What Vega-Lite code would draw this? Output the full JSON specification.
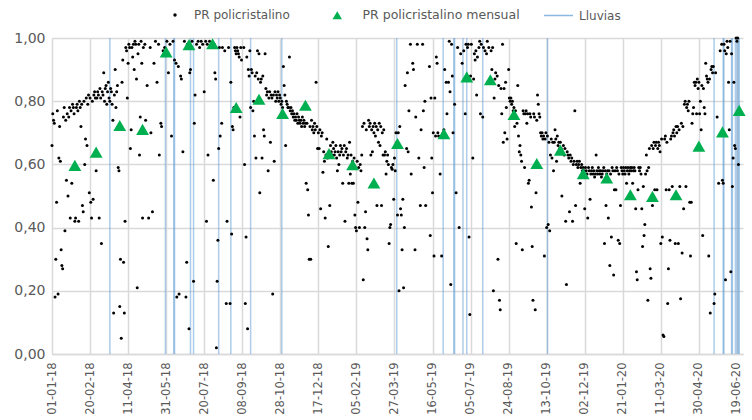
{
  "$schema": "https://vega.github.io/schema/vega-lite/v6.json",
  "width": 691,
  "height": 316,
  "autosize": "none",
  "padding": {"left": 52, "top": 38, "right": 9, "bottom": 66},
  "background": "white",
  "config": {
    "view": {"stroke": null},
    "font": "DejaVu Sans",
    "axis": {"labelOverlap": false},
    "axisX": {"labelOverlap": false, "labelSeparation": 0},
    "legend": {"labelFont": "DejaVu Sans", "labelFontSize": 12, "labelColor": "#595959", "title": null}
  },
  "encoding": {
    "x": {
      "field": "d", "type": "temporal",
      "scale": {"type": "utc", "domain": [{"year": 2018, "month": 1, "date": 1, "utc": true}, {"year": 2020, "month": 6, "date": 27, "utc": true}]},
      "axis": {
        "title": null,
        "values": [
          {"year": 2018, "month": 1, "date": 1, "utc": true}, {"year": 2018, "month": 2, "date": 20, "utc": true},
          {"year": 2018, "month": 4, "date": 11, "utc": true}, {"year": 2018, "month": 5, "date": 31, "utc": true},
          {"year": 2018, "month": 7, "date": 20, "utc": true}, {"year": 2018, "month": 9, "date": 8, "utc": true},
          {"year": 2018, "month": 10, "date": 28, "utc": true}, {"year": 2018, "month": 12, "date": 17, "utc": true},
          {"year": 2019, "month": 2, "date": 5, "utc": true}, {"year": 2019, "month": 3, "date": 27, "utc": true},
          {"year": 2019, "month": 5, "date": 16, "utc": true}, {"year": 2019, "month": 7, "date": 5, "utc": true},
          {"year": 2019, "month": 8, "date": 24, "utc": true}, {"year": 2019, "month": 10, "date": 13, "utc": true},
          {"year": 2019, "month": 12, "date": 2, "utc": true}, {"year": 2020, "month": 1, "date": 21, "utc": true},
          {"year": 2020, "month": 3, "date": 11, "utc": true}, {"year": 2020, "month": 4, "date": 30, "utc": true},
          {"year": 2020, "month": 6, "date": 19, "utc": true}
        ],
        "format": "%d-%m-%y",
        "labelAngle": -90,
        "labelFont": "DejaVu Sans",
        "labelFontSize": 11.5,
        "labelColor": "#595959",
        "labelPadding": 8,
        "labelOverlap": false,
        "labelSeparation": 0,
        "ticks": false,
        "domainColor": "#d9d9d9",
        "domainWidth": 1.5,
        "gridColor": "#d9d9d9",
        "gridWidth": 1.5
      }
    }
  },
  "layer": [
    {
      "data": {"values": [
        {"d":"2018-03-18"},{"d":"2018-05-30"},{"d":"2018-06-10"},{"d":"2018-06-11"},{"d":"2018-07-02"},{"d":"2018-07-06"},
        {"d":"2018-08-08"},{"d":"2018-08-24"},{"d":"2018-09-19"},{"d":"2018-10-30"},{"d":"2019-03-30"},{"d":"2019-05-30"},
        {"d":"2019-06-13"},{"d":"2019-06-14"},{"d":"2019-06-25"},{"d":"2019-06-30"},{"d":"2019-07-21"},{"d":"2019-10-14"},
        {"d":"2020-05-20"},{"d":"2020-06-01"},{"d":"2020-06-02"},{"d":"2020-06-12"},{"d":"2020-06-13"},{"d":"2020-06-17"},
        {"d":"2020-06-19"},{"d":"2020-06-21"},{"d":"2020-06-22"}
      ]},
      "mark": {"type": "rule", "strokeWidth": 1.5, "opacity": 0.5},
      "encoding": {
        "stroke": {
          "datum": "Lluvias",
          "scale": {"range": ["#5b9bd5"]},
          "legend": {
            "orient": "none",
            "legendX": 491,
            "legendY": -38,
            "symbolType": "stroke",
            "symbolSize": 841,
            "symbolStrokeWidth": 1.5,
            "symbolOpacity": 0.7,
            "labelOffset": 5
          }
        }
      }
    },
    {
      "data": {"values": [
        {"d":"2018-01-01","v":0.66},{"d":"2018-01-02","v":0.76},{"d":"2018-01-03","v":0.74},{"d":"2018-01-04","v":0.73},{"d":"2018-01-05","v":0.18},{"d":"2018-01-06","v":0.30},{"d":"2018-01-07","v":0.48},{"d":"2018-01-08","v":0.77},{"d":"2018-01-09","v":0.19},{"d":"2018-01-10","v":0.62},{"d":"2018-01-11","v":0.72},{"d":"2018-01-12","v":0.61},{"d":"2018-01-13","v":0.33},{"d":"2018-01-14","v":0.28},{"d":"2018-01-15","v":0.27},{"d":"2018-01-16","v":0.75},{"d":"2018-01-17","v":0.78},{"d":"2018-01-18","v":0.39},{"d":"2018-01-19","v":0.74},{"d":"2018-01-20","v":0.55},{"d":"2018-01-21","v":0.76},{"d":"2018-01-22","v":0.50},{"d":"2018-01-23","v":0.75},{"d":"2018-01-24","v":0.78},{"d":"2018-01-25","v":0.43},{"d":"2018-01-26","v":0.77},{"d":"2018-01-27","v":0.54},{"d":"2018-01-28","v":0.79},{"d":"2018-01-29","v":0.78},{"d":"2018-01-30","v":0.76},{"d":"2018-01-31","v":0.42},
        {"d":"2018-02-01","v":0.43},{"d":"2018-02-02","v":0.78},{"d":"2018-02-03","v":0.79},{"d":"2018-02-04","v":0.77},{"d":"2018-02-05","v":0.42},{"d":"2018-02-06","v":0.80},{"d":"2018-02-07","v":0.78},{"d":"2018-02-08","v":0.72},{"d":"2018-02-09","v":0.79},{"d":"2018-02-10","v":0.47},{"d":"2018-02-11","v":0.45},{"d":"2018-02-12","v":0.80},{"d":"2018-02-13","v":0.60},{"d":"2018-02-14","v":0.68},{"d":"2018-02-15","v":0.81},{"d":"2018-02-16","v":0.66},{"d":"2018-02-17","v":0.79},{"d":"2018-02-18","v":0.82},{"d":"2018-02-19","v":0.51},{"d":"2018-02-20","v":0.81},{"d":"2018-02-21","v":0.48},{"d":"2018-02-22","v":0.43},{"d":"2018-02-23","v":0.80},{"d":"2018-02-24","v":0.49},{"d":"2018-02-25","v":0.82},{"d":"2018-02-26","v":0.83},{"d":"2018-02-27","v":0.81},{"d":"2018-02-28","v":0.58},
        {"d":"2018-03-01","v":0.81},{"d":"2018-03-02","v":0.83},{"d":"2018-03-03","v":0.82},{"d":"2018-03-04","v":0.43},{"d":"2018-03-05","v":0.84},{"d":"2018-03-06","v":0.81},{"d":"2018-03-07","v":0.35},{"d":"2018-03-08","v":0.83},{"d":"2018-03-09","v":0.82},{"d":"2018-03-10","v":0.89},{"d":"2018-03-11","v":0.80},{"d":"2018-03-12","v":0.84},{"d":"2018-03-13","v":0.85},{"d":"2018-03-14","v":0.79},{"d":"2018-03-15","v":0.83},{"d":"2018-03-16","v":0.86},{"d":"2018-03-17","v":0.81},{"d":"2018-03-18","v":0.80},{"d":"2018-03-19","v":0.84},{"d":"2018-03-20","v":0.83},{"d":"2018-03-21","v":0.79},{"d":"2018-03-22","v":0.74},{"d":"2018-03-23","v":0.13},{"d":"2018-03-24","v":0.82},{"d":"2018-03-25","v":0.90},{"d":"2018-03-26","v":0.78},{"d":"2018-03-27","v":0.83},{"d":"2018-03-28","v":0.85},{"d":"2018-03-29","v":0.59},{"d":"2018-03-30","v":0.58},{"d":"2018-03-31","v":0.15},
        {"d":"2018-04-01","v":0.30},{"d":"2018-04-02","v":0.05},{"d":"2018-04-03","v":0.86},{"d":"2018-04-04","v":0.93},{"d":"2018-04-05","v":0.29},{"d":"2018-04-06","v":0.13},{"d":"2018-04-07","v":0.42},{"d":"2018-04-08","v":0.97},{"d":"2018-04-09","v":0.96},{"d":"2018-04-10","v":0.81},{"d":"2018-04-11","v":0.92},{"d":"2018-04-12","v":0.98},{"d":"2018-04-13","v":0.97},{"d":"2018-04-14","v":0.65},{"d":"2018-04-15","v":0.71},{"d":"2018-04-16","v":0.97},{"d":"2018-04-17","v":0.94},{"d":"2018-04-18","v":0.98},{"d":"2018-04-19","v":0.90},{"d":"2018-04-20","v":0.99},{"d":"2018-04-21","v":0.98},{"d":"2018-04-22","v":0.87},{"d":"2018-04-23","v":0.21},{"d":"2018-04-24","v":0.95},{"d":"2018-04-25","v":0.98},{"d":"2018-04-26","v":0.63},{"d":"2018-04-27","v":0.75},{"d":"2018-04-28","v":0.99},{"d":"2018-04-29","v":0.92},{"d":"2018-04-30","v":0.43},
        {"d":"2018-05-01","v":0.97},{"d":"2018-05-03","v":0.98},{"d":"2018-05-04","v":0.74},{"d":"2018-05-06","v":0.85},{"d":"2018-05-08","v":0.43},{"d":"2018-05-10","v":0.97},{"d":"2018-05-11","v":0.70},{"d":"2018-05-13","v":0.45},{"d":"2018-05-15","v":0.92},{"d":"2018-05-17","v":0.99},{"d":"2018-05-19","v":0.86},{"d":"2018-05-21","v":0.98},{"d":"2018-05-22","v":0.63},{"d":"2018-05-24","v":0.73},{"d":"2018-05-25","v":0.72},{"d":"2018-05-27","v":0.96},{"d":"2018-05-29","v":0.97},
        {"d":"2018-06-01","v":0.99},{"d":"2018-06-03","v":0.89},{"d":"2018-06-05","v":0.98},{"d":"2018-06-07","v":0.69},{"d":"2018-06-09","v":0.99},{"d":"2018-06-11","v":0.93},{"d":"2018-06-13","v":0.92},{"d":"2018-06-14","v":0.18},{"d":"2018-06-16","v":0.91},{"d":"2018-06-17","v":0.19},{"d":"2018-06-19","v":0.88},{"d":"2018-06-20","v":0.87},{"d":"2018-06-22","v":0.64},{"d":"2018-06-24","v":0.99},{"d":"2018-06-26","v":0.18},{"d":"2018-06-27","v":0.29},{"d":"2018-06-28","v":0.98},{"d":"2018-06-30","v":0.08},
        {"d":"2018-07-01","v":0.89},{"d":"2018-07-02","v":0.90},{"d":"2018-07-04","v":0.99},{"d":"2018-07-06","v":0.23},{"d":"2018-07-07","v":0.73},{"d":"2018-07-08","v":0.82},{"d":"2018-07-10","v":0.98},{"d":"2018-07-12","v":0.99},{"d":"2018-07-14","v":0.97},{"d":"2018-07-16","v":0.99},{"d":"2018-07-18","v":0.98},{"d":"2018-07-20","v":0.83},{"d":"2018-07-22","v":0.99},{"d":"2018-07-23","v":0.42},{"d":"2018-07-24","v":0.98},{"d":"2018-07-25","v":0.63},{"d":"2018-07-27","v":0.99},{"d":"2018-07-29","v":0.97},{"d":"2018-07-31","v":0.98},
        {"d":"2018-08-01","v":0.55},{"d":"2018-08-02","v":0.98},{"d":"2018-08-03","v":0.89},{"d":"2018-08-04","v":0.87},{"d":"2018-08-05","v":0.02},{"d":"2018-08-06","v":0.23},{"d":"2018-08-07","v":0.36},{"d":"2018-08-08","v":0.65},{"d":"2018-08-09","v":0.97},{"d":"2018-08-10","v":0.69},{"d":"2018-08-12","v":0.73},{"d":"2018-08-13","v":0.97},{"d":"2018-08-16","v":0.96},{"d":"2018-08-18","v":0.16},{"d":"2018-08-19","v":0.42},{"d":"2018-08-21","v":0.97},{"d":"2018-08-23","v":0.16},{"d":"2018-08-24","v":0.86},{"d":"2018-08-25","v":0.38},{"d":"2018-08-26","v":0.72},{"d":"2018-08-27","v":0.71},{"d":"2018-08-28","v":0.78},{"d":"2018-08-29","v":0.97},{"d":"2018-08-30","v":0.96},{"d":"2018-08-31","v":0.95},
        {"d":"2018-09-01","v":0.97},{"d":"2018-09-02","v":0.96},{"d":"2018-09-03","v":0.95},{"d":"2018-09-04","v":0.94},{"d":"2018-09-05","v":0.75},{"d":"2018-09-06","v":0.97},{"d":"2018-09-07","v":0.93},{"d":"2018-09-10","v":0.97},{"d":"2018-09-11","v":0.60},{"d":"2018-09-12","v":0.16},{"d":"2018-09-13","v":0.37},{"d":"2018-09-14","v":0.94},{"d":"2018-09-15","v":0.08},{"d":"2018-09-16","v":0.90},{"d":"2018-09-17","v":0.88},{"d":"2018-09-18","v":0.96},{"d":"2018-09-19","v":0.78},{"d":"2018-09-20","v":0.90},{"d":"2018-09-21","v":0.89},{"d":"2018-09-22","v":0.77},{"d":"2018-09-23","v":0.80},{"d":"2018-09-24","v":0.69},{"d":"2018-09-25","v":0.88},{"d":"2018-09-26","v":0.62},{"d":"2018-09-27","v":0.89},{"d":"2018-09-28","v":0.96},{"d":"2018-09-29","v":0.87},{"d":"2018-09-30","v":0.95},
        {"d":"2018-10-01","v":0.51},{"d":"2018-10-02","v":0.86},{"d":"2018-10-03","v":0.87},{"d":"2018-10-04","v":0.62},{"d":"2018-10-05","v":0.88},{"d":"2018-10-06","v":0.71},{"d":"2018-10-07","v":0.69},{"d":"2018-10-08","v":0.95},{"d":"2018-10-09","v":0.84},{"d":"2018-10-10","v":0.82},{"d":"2018-10-11","v":0.83},{"d":"2018-10-12","v":0.58},{"d":"2018-10-13","v":0.81},{"d":"2018-10-14","v":0.83},{"d":"2018-10-15","v":0.67},{"d":"2018-10-16","v":0.82},{"d":"2018-10-17","v":0.81},{"d":"2018-10-18","v":0.19},{"d":"2018-10-19","v":0.82},{"d":"2018-10-20","v":0.61},{"d":"2018-10-21","v":0.83},{"d":"2018-10-22","v":0.80},{"d":"2018-10-23","v":0.82},{"d":"2018-10-24","v":0.81},{"d":"2018-10-25","v":0.83},{"d":"2018-10-26","v":0.80},{"d":"2018-10-27","v":0.82},{"d":"2018-10-28","v":0.81},{"d":"2018-10-29","v":0.79},{"d":"2018-10-30","v":0.80},{"d":"2018-10-31","v":0.78},
        {"d":"2018-11-01","v":0.91},{"d":"2018-11-02","v":0.85},{"d":"2018-11-03","v":0.82},{"d":"2018-11-04","v":0.66},{"d":"2018-11-05","v":0.80},{"d":"2018-11-06","v":0.79},{"d":"2018-11-07","v":0.78},{"d":"2018-11-08","v":0.78},{"d":"2018-11-09","v":0.94},{"d":"2018-11-10","v":0.77},{"d":"2018-11-11","v":0.78},{"d":"2018-11-12","v":0.76},{"d":"2018-11-13","v":0.77},{"d":"2018-11-14","v":0.75},{"d":"2018-11-15","v":0.76},{"d":"2018-11-16","v":0.74},{"d":"2018-11-17","v":0.75},{"d":"2018-11-18","v":0.74},{"d":"2018-11-19","v":0.76},{"d":"2018-11-20","v":0.73},{"d":"2018-11-21","v":0.75},{"d":"2018-11-22","v":0.74},{"d":"2018-11-23","v":0.73},{"d":"2018-11-24","v":0.74},{"d":"2018-11-25","v":0.72},{"d":"2018-11-26","v":0.75},{"d":"2018-11-27","v":0.73},{"d":"2018-11-28","v":0.74},{"d":"2018-11-29","v":0.72},{"d":"2018-11-30","v":0.73},
        {"d":"2018-12-01","v":0.54},{"d":"2018-12-02","v":0.73},{"d":"2018-12-03","v":0.52},{"d":"2018-12-04","v":0.44},{"d":"2018-12-05","v":0.30},{"d":"2018-12-06","v":0.72},{"d":"2018-12-07","v":0.30},{"d":"2018-12-08","v":0.74},{"d":"2018-12-09","v":0.71},{"d":"2018-12-10","v":0.72},{"d":"2018-12-11","v":0.70},{"d":"2018-12-12","v":0.73},{"d":"2018-12-13","v":0.71},{"d":"2018-12-14","v":0.86},{"d":"2018-12-15","v":0.72},{"d":"2018-12-16","v":0.65},{"d":"2018-12-17","v":0.70},{"d":"2018-12-18","v":0.65},{"d":"2018-12-19","v":0.71},{"d":"2018-12-20","v":0.46},{"d":"2018-12-21","v":0.69},{"d":"2018-12-22","v":0.70},{"d":"2018-12-23","v":0.575},{"d":"2018-12-24","v":0.64},{"d":"2018-12-25","v":0.61},{"d":"2018-12-26","v":0.43},{"d":"2018-12-27","v":0.63},{"d":"2018-12-28","v":0.68},{"d":"2018-12-29","v":0.62},{"d":"2018-12-30","v":0.34},{"d":"2018-12-31","v":0.64},
        {"d":"2019-01-01","v":0.47},{"d":"2019-01-02","v":0.66},{"d":"2019-01-03","v":0.64},{"d":"2019-01-04","v":0.63},{"d":"2019-01-05","v":0.67},{"d":"2019-01-06","v":0.65},{"d":"2019-01-07","v":0.63},{"d":"2019-01-08","v":0.64},{"d":"2019-01-09","v":0.66},{"d":"2019-01-10","v":0.62},{"d":"2019-01-11","v":0.58},{"d":"2019-01-12","v":0.64},{"d":"2019-01-13","v":0.60},{"d":"2019-01-14","v":0.63},{"d":"2019-01-15","v":0.66},{"d":"2019-01-16","v":0.64},{"d":"2019-01-17","v":0.65},{"d":"2019-01-18","v":0.54},{"d":"2019-01-19","v":0.63},{"d":"2019-01-20","v":0.66},{"d":"2019-01-21","v":0.42},{"d":"2019-01-22","v":0.64},{"d":"2019-01-23","v":0.65},{"d":"2019-01-24","v":0.62},{"d":"2019-01-25","v":0.63},{"d":"2019-01-26","v":0.54},{"d":"2019-01-27","v":0.67},{"d":"2019-01-28","v":0.57},{"d":"2019-01-29","v":0.63},{"d":"2019-01-30","v":0.54},{"d":"2019-01-31","v":0.61},
        {"d":"2019-02-01","v":0.54},{"d":"2019-02-02","v":0.62},{"d":"2019-02-03","v":0.44},{"d":"2019-02-04","v":0.40},{"d":"2019-02-05","v":0.39},{"d":"2019-02-06","v":0.61},{"d":"2019-02-07","v":0.48},{"d":"2019-02-08","v":0.59},{"d":"2019-02-09","v":0.40},{"d":"2019-02-10","v":0.60},{"d":"2019-02-11","v":0.58},{"d":"2019-02-12","v":0.63},{"d":"2019-02-13","v":0.72},{"d":"2019-02-14","v":0.235},{"d":"2019-02-15","v":0.73},{"d":"2019-02-16","v":0.40},{"d":"2019-02-17","v":0.45},{"d":"2019-02-18","v":0.71},{"d":"2019-02-19","v":0.365},{"d":"2019-02-20","v":0.33},{"d":"2019-02-21","v":0.74},{"d":"2019-02-22","v":0.72},{"d":"2019-02-23","v":0.73},{"d":"2019-02-24","v":0.63},{"d":"2019-02-25","v":0.71},{"d":"2019-02-26","v":0.64},{"d":"2019-02-27","v":0.72},{"d":"2019-02-28","v":0.70},
        {"d":"2019-03-01","v":0.73},{"d":"2019-03-02","v":0.69},{"d":"2019-03-03","v":0.72},{"d":"2019-03-04","v":0.47},{"d":"2019-03-05","v":0.71},{"d":"2019-03-06","v":0.67},{"d":"2019-03-07","v":0.73},{"d":"2019-03-08","v":0.66},{"d":"2019-03-09","v":0.72},{"d":"2019-03-10","v":0.47},{"d":"2019-03-11","v":0.70},{"d":"2019-03-12","v":0.63},{"d":"2019-03-13","v":0.71},{"d":"2019-03-14","v":0.63},{"d":"2019-03-15","v":0.64},{"d":"2019-03-16","v":0.57},{"d":"2019-03-17","v":0.61},{"d":"2019-03-18","v":0.63},{"d":"2019-03-19","v":0.60},{"d":"2019-03-20","v":0.35},{"d":"2019-03-21","v":0.40},{"d":"2019-03-22","v":0.41},{"d":"2019-03-23","v":0.59},{"d":"2019-03-24","v":0.585},{"d":"2019-03-25","v":0.60},{"d":"2019-03-26","v":0.49},{"d":"2019-03-27","v":0.62},{"d":"2019-03-28","v":0.58},{"d":"2019-03-29","v":0.70},{"d":"2019-03-30","v":0.67},{"d":"2019-03-31","v":0.44},
        {"d":"2019-04-01","v":0.70},{"d":"2019-04-02","v":0.20},{"d":"2019-04-03","v":0.72},{"d":"2019-04-04","v":0.46},{"d":"2019-04-05","v":0.44},{"d":"2019-04-06","v":0.33},{"d":"2019-04-07","v":0.49},{"d":"2019-04-08","v":0.21},{"d":"2019-04-09","v":0.40},{"d":"2019-04-10","v":0.85},{"d":"2019-04-12","v":0.65},{"d":"2019-04-13","v":0.89},{"d":"2019-04-14","v":0.64},{"d":"2019-04-15","v":0.77},{"d":"2019-04-17","v":0.98},{"d":"2019-04-18","v":0.57},{"d":"2019-04-20","v":0.92},{"d":"2019-04-21","v":0.90},{"d":"2019-04-23","v":0.33},{"d":"2019-04-24","v":0.75},{"d":"2019-04-26","v":0.98},{"d":"2019-04-28","v":0.62},{"d":"2019-04-30","v":0.47},
        {"d":"2019-05-01","v":0.71},{"d":"2019-05-03","v":0.98},{"d":"2019-05-04","v":0.77},{"d":"2019-05-05","v":0.59},{"d":"2019-05-06","v":0.80},{"d":"2019-05-07","v":0.47},{"d":"2019-05-12","v":0.91},{"d":"2019-05-13","v":0.375},{"d":"2019-05-14","v":0.81},{"d":"2019-05-15","v":0.62},{"d":"2019-05-16","v":0.51},{"d":"2019-05-17","v":0.70},{"d":"2019-05-18","v":0.31},{"d":"2019-05-19","v":0.81},{"d":"2019-05-20","v":0.69},{"d":"2019-05-21","v":0.94},{"d":"2019-05-22","v":0.92},{"d":"2019-05-23","v":0.70},{"d":"2019-05-24","v":0.69},{"d":"2019-05-26","v":0.57},{"d":"2019-05-28","v":0.31},{"d":"2019-05-30","v":0.70},{"d":"2019-05-31","v":0.71},
        {"d":"2019-06-01","v":0.90},{"d":"2019-06-03","v":0.86},{"d":"2019-06-04","v":0.76},{"d":"2019-06-06","v":0.86},{"d":"2019-06-07","v":0.99},{"d":"2019-06-08","v":0.83},{"d":"2019-06-09","v":0.22},{"d":"2019-06-10","v":0.98},{"d":"2019-06-11","v":0.88},{"d":"2019-06-12","v":0.70},{"d":"2019-06-14","v":0.79},{"d":"2019-06-16","v":0.51},{"d":"2019-06-18","v":0.97},{"d":"2019-06-20","v":0.40},{"d":"2019-06-22","v":0.95},{"d":"2019-06-24","v":0.92},{"d":"2019-06-26","v":0.96},{"d":"2019-06-28","v":0.76},{"d":"2019-06-29","v":0.98},
        {"d":"2019-07-01","v":0.97},{"d":"2019-07-02","v":0.98},{"d":"2019-07-03","v":0.37},{"d":"2019-07-04","v":0.125},{"d":"2019-07-05","v":0.88},{"d":"2019-07-06","v":0.98},{"d":"2019-07-08","v":0.62},{"d":"2019-07-09","v":0.87},{"d":"2019-07-10","v":0.95},{"d":"2019-07-11","v":0.93},{"d":"2019-07-12","v":0.96},{"d":"2019-07-13","v":0.82},{"d":"2019-07-14","v":0.94},{"d":"2019-07-16","v":0.97},{"d":"2019-07-17","v":0.99},{"d":"2019-07-18","v":0.76},{"d":"2019-07-19","v":0.98},{"d":"2019-07-21","v":0.75},{"d":"2019-07-22","v":0.97},{"d":"2019-07-24","v":0.96},{"d":"2019-07-26","v":0.95},{"d":"2019-07-27","v":0.99},{"d":"2019-07-29","v":0.97},{"d":"2019-07-31","v":0.87},
        {"d":"2019-08-01","v":0.96},{"d":"2019-08-02","v":0.90},{"d":"2019-08-03","v":0.97},{"d":"2019-08-04","v":0.20},{"d":"2019-08-05","v":0.81},{"d":"2019-08-06","v":0.87},{"d":"2019-08-07","v":0.89},{"d":"2019-08-09","v":0.88},{"d":"2019-08-10","v":0.30},{"d":"2019-08-11","v":0.85},{"d":"2019-08-12","v":0.17},{"d":"2019-08-13","v":0.14},{"d":"2019-08-14","v":0.84},{"d":"2019-08-15","v":0.76},{"d":"2019-08-16","v":0.98},{"d":"2019-08-17","v":0.67},{"d":"2019-08-18","v":0.84},{"d":"2019-08-19","v":0.70},{"d":"2019-08-20","v":0.86},{"d":"2019-08-21","v":0.78},{"d":"2019-08-22","v":0.68},{"d":"2019-08-24","v":0.90},{"d":"2019-08-25","v":0.81},{"d":"2019-08-26","v":0.80},{"d":"2019-08-27","v":0.81},{"d":"2019-08-28","v":0.79},{"d":"2019-08-29","v":0.80},{"d":"2019-08-30","v":0.77},{"d":"2019-08-31","v":0.78},
        {"d":"2019-09-01","v":0.72},{"d":"2019-09-02","v":0.77},{"d":"2019-09-03","v":0.35},{"d":"2019-09-04","v":0.73},{"d":"2019-09-05","v":0.85},{"d":"2019-09-06","v":0.69},{"d":"2019-09-07","v":0.64},{"d":"2019-09-08","v":0.66},{"d":"2019-09-09","v":0.63},{"d":"2019-09-10","v":0.61},{"d":"2019-09-11","v":0.33},{"d":"2019-09-12","v":0.77},{"d":"2019-09-13","v":0.76},{"d":"2019-09-14","v":0.59},{"d":"2019-09-15","v":0.76},{"d":"2019-09-16","v":0.77},{"d":"2019-09-17","v":0.73},{"d":"2019-09-18","v":0.76},{"d":"2019-09-19","v":0.54},{"d":"2019-09-20","v":0.55},{"d":"2019-09-21","v":0.76},{"d":"2019-09-22","v":0.75},{"d":"2019-09-23","v":0.465},{"d":"2019-09-24","v":0.34},{"d":"2019-09-25","v":0.17},{"d":"2019-09-26","v":0.76},{"d":"2019-09-27","v":0.75},{"d":"2019-09-28","v":0.14},{"d":"2019-09-29","v":0.51},{"d":"2019-09-30","v":0.74},
        {"d":"2019-10-01","v":0.82},{"d":"2019-10-02","v":0.79},{"d":"2019-10-03","v":0.76},{"d":"2019-10-04","v":0.75},{"d":"2019-10-05","v":0.70},{"d":"2019-10-06","v":0.69},{"d":"2019-10-07","v":0.70},{"d":"2019-10-08","v":0.68},{"d":"2019-10-09","v":0.69},{"d":"2019-10-10","v":0.31},{"d":"2019-10-11","v":0.68},{"d":"2019-10-12","v":0.70},{"d":"2019-10-13","v":0.40},{"d":"2019-10-14","v":0.69},{"d":"2019-10-15","v":0.41},{"d":"2019-10-16","v":0.67},{"d":"2019-10-17","v":0.39},{"d":"2019-10-18","v":0.63},{"d":"2019-10-19","v":0.68},{"d":"2019-10-20","v":0.62},{"d":"2019-10-21","v":0.67},{"d":"2019-10-22","v":0.58},{"d":"2019-10-23","v":0.67},{"d":"2019-10-24","v":0.71},{"d":"2019-10-25","v":0.68},{"d":"2019-10-26","v":0.61},{"d":"2019-10-27","v":0.69},{"d":"2019-10-28","v":0.66},{"d":"2019-10-29","v":0.67},{"d":"2019-10-30","v":0.65},{"d":"2019-10-31","v":0.67},
        {"d":"2019-11-01","v":0.65},{"d":"2019-11-02","v":0.50},{"d":"2019-11-03","v":0.64},{"d":"2019-11-04","v":0.66},{"d":"2019-11-05","v":0.63},{"d":"2019-11-06","v":0.65},{"d":"2019-11-07","v":0.42},{"d":"2019-11-08","v":0.22},{"d":"2019-11-09","v":0.64},{"d":"2019-11-10","v":0.63},{"d":"2019-11-11","v":0.62},{"d":"2019-11-12","v":0.45},{"d":"2019-11-13","v":0.63},{"d":"2019-11-14","v":0.61},{"d":"2019-11-15","v":0.62},{"d":"2019-11-16","v":0.42},{"d":"2019-11-17","v":0.60},{"d":"2019-11-18","v":0.61},{"d":"2019-11-19","v":0.77},{"d":"2019-11-20","v":0.47},{"d":"2019-11-21","v":0.60},{"d":"2019-11-22","v":0.61},{"d":"2019-11-23","v":0.59},{"d":"2019-11-24","v":0.60},{"d":"2019-11-25","v":0.61},{"d":"2019-11-26","v":0.54},{"d":"2019-11-27","v":0.59},{"d":"2019-11-28","v":0.60},{"d":"2019-11-29","v":0.58},{"d":"2019-11-30","v":0.59},
        {"d":"2019-12-01","v":0.58},{"d":"2019-12-02","v":0.46},{"d":"2019-12-03","v":0.59},{"d":"2019-12-04","v":0.58},{"d":"2019-12-05","v":0.57},{"d":"2019-12-06","v":0.43},{"d":"2019-12-07","v":0.59},{"d":"2019-12-08","v":0.58},{"d":"2019-12-09","v":0.49},{"d":"2019-12-10","v":0.57},{"d":"2019-12-11","v":0.58},{"d":"2019-12-12","v":0.59},{"d":"2019-12-13","v":0.57},{"d":"2019-12-14","v":0.58},{"d":"2019-12-15","v":0.56},{"d":"2019-12-16","v":0.57},{"d":"2019-12-17","v":0.63},{"d":"2019-12-18","v":0.58},{"d":"2019-12-19","v":0.57},{"d":"2019-12-20","v":0.59},{"d":"2019-12-21","v":0.58},{"d":"2019-12-22","v":0.57},{"d":"2019-12-23","v":0.58},{"d":"2019-12-24","v":0.56},{"d":"2019-12-25","v":0.57},{"d":"2019-12-26","v":0.58},{"d":"2019-12-27","v":0.59},{"d":"2019-12-28","v":0.35},{"d":"2019-12-29","v":0.58},{"d":"2019-12-30","v":0.47},{"d":"2019-12-31","v":0.57},
        {"d":"2020-01-01","v":0.58},{"d":"2020-01-02","v":0.43},{"d":"2020-01-03","v":0.58},{"d":"2020-01-04","v":0.28},{"d":"2020-01-05","v":0.57},{"d":"2020-01-06","v":0.37},{"d":"2020-01-07","v":0.59},{"d":"2020-01-08","v":0.58},{"d":"2020-01-09","v":0.25},{"d":"2020-01-10","v":0.52},{"d":"2020-01-11","v":0.58},{"d":"2020-01-12","v":0.52},{"d":"2020-01-13","v":0.59},{"d":"2020-01-14","v":0.58},{"d":"2020-01-15","v":0.36},{"d":"2020-01-16","v":0.57},{"d":"2020-01-17","v":0.35},{"d":"2020-01-18","v":0.47},{"d":"2020-01-19","v":0.59},{"d":"2020-01-20","v":0.58},{"d":"2020-01-21","v":0.57},{"d":"2020-01-22","v":0.59},{"d":"2020-01-23","v":0.58},{"d":"2020-01-24","v":0.57},{"d":"2020-01-25","v":0.59},{"d":"2020-01-26","v":0.54},{"d":"2020-01-27","v":0.58},{"d":"2020-01-28","v":0.59},{"d":"2020-01-29","v":0.57},{"d":"2020-01-30","v":0.58},{"d":"2020-01-31","v":0.59},
        {"d":"2020-02-01","v":0.58},{"d":"2020-02-02","v":0.59},{"d":"2020-02-03","v":0.54},{"d":"2020-02-04","v":0.58},{"d":"2020-02-05","v":0.59},{"d":"2020-02-06","v":0.58},{"d":"2020-02-07","v":0.46},{"d":"2020-02-08","v":0.26},{"d":"2020-02-09","v":0.235},{"d":"2020-02-10","v":0.52},{"d":"2020-02-11","v":0.59},{"d":"2020-02-12","v":0.58},{"d":"2020-02-13","v":0.59},{"d":"2020-02-14","v":0.57},{"d":"2020-02-15","v":0.46},{"d":"2020-02-16","v":0.34},{"d":"2020-02-17","v":0.53},{"d":"2020-02-18","v":0.375},{"d":"2020-02-19","v":0.41},{"d":"2020-02-20","v":0.57},{"d":"2020-02-21","v":0.63},{"d":"2020-02-22","v":0.58},{"d":"2020-02-23","v":0.17},{"d":"2020-02-24","v":0.59},{"d":"2020-02-25","v":0.65},{"d":"2020-02-26","v":0.27},{"d":"2020-02-27","v":0.24},{"d":"2020-02-28","v":0.66},{"d":"2020-02-29","v":0.47},
        {"d":"2020-03-01","v":0.65},{"d":"2020-03-02","v":0.67},{"d":"2020-03-03","v":0.52},{"d":"2020-03-04","v":0.66},{"d":"2020-03-05","v":0.67},{"d":"2020-03-06","v":0.52},{"d":"2020-03-07","v":0.65},{"d":"2020-03-08","v":0.67},{"d":"2020-03-09","v":0.66},{"d":"2020-03-10","v":0.64},{"d":"2020-03-11","v":0.35},{"d":"2020-03-12","v":0.68},{"d":"2020-03-13","v":0.37},{"d":"2020-03-14","v":0.06},{"d":"2020-03-15","v":0.055},{"d":"2020-03-16","v":0.68},{"d":"2020-03-17","v":0.69},{"d":"2020-03-18","v":0.52},{"d":"2020-03-19","v":0.67},{"d":"2020-03-20","v":0.16},{"d":"2020-03-21","v":0.27},{"d":"2020-03-22","v":0.52},{"d":"2020-03-23","v":0.36},{"d":"2020-03-24","v":0.68},{"d":"2020-03-25","v":0.69},{"d":"2020-03-26","v":0.53},{"d":"2020-03-27","v":0.70},{"d":"2020-03-28","v":0.71},{"d":"2020-03-29","v":0.69},{"d":"2020-03-30","v":0.35},{"d":"2020-03-31","v":0.72},
        {"d":"2020-04-01","v":0.70},{"d":"2020-04-02","v":0.72},{"d":"2020-04-03","v":0.35},{"d":"2020-04-04","v":0.71},{"d":"2020-04-05","v":0.53},{"d":"2020-04-06","v":0.175},{"d":"2020-04-07","v":0.73},{"d":"2020-04-08","v":0.32},{"d":"2020-04-09","v":0.72},{"d":"2020-04-10","v":0.46},{"d":"2020-04-11","v":0.79},{"d":"2020-04-12","v":0.80},{"d":"2020-04-13","v":0.53},{"d":"2020-04-14","v":0.78},{"d":"2020-04-15","v":0.79},{"d":"2020-04-16","v":0.77},{"d":"2020-04-17","v":0.80},{"d":"2020-04-18","v":0.48},{"d":"2020-04-19","v":0.31},{"d":"2020-04-20","v":0.48},{"d":"2020-04-21","v":0.73},{"d":"2020-04-22","v":0.76},{"d":"2020-04-23","v":0.78},{"d":"2020-04-24","v":0.86},{"d":"2020-04-25","v":0.85},{"d":"2020-04-26","v":0.86},{"d":"2020-04-27","v":0.76},{"d":"2020-04-28","v":0.87},{"d":"2020-04-29","v":0.84},{"d":"2020-04-30","v":0.86},
        {"d":"2020-05-01","v":0.76},{"d":"2020-05-02","v":0.80},{"d":"2020-05-03","v":0.71},{"d":"2020-05-04","v":0.85},{"d":"2020-05-05","v":0.375},{"d":"2020-05-06","v":0.84},{"d":"2020-05-07","v":0.78},{"d":"2020-05-08","v":0.76},{"d":"2020-05-09","v":0.92},{"d":"2020-05-10","v":0.88},{"d":"2020-05-11","v":0.87},{"d":"2020-05-12","v":0.86},{"d":"2020-05-13","v":0.31},{"d":"2020-05-14","v":0.87},{"d":"2020-05-15","v":0.13},{"d":"2020-05-16","v":0.90},{"d":"2020-05-17","v":0.91},{"d":"2020-05-18","v":0.89},{"d":"2020-05-19","v":0.91},{"d":"2020-05-20","v":0.16},{"d":"2020-05-21","v":0.19},{"d":"2020-05-22","v":0.89},{"d":"2020-05-24","v":0.75},{"d":"2020-05-26","v":0.54},{"d":"2020-05-28","v":0.96},{"d":"2020-05-30","v":0.98},{"d":"2020-05-31","v":0.55},
        {"d":"2020-06-01","v":0.54},{"d":"2020-06-02","v":0.98},{"d":"2020-06-03","v":0.96},{"d":"2020-06-04","v":0.235},{"d":"2020-06-05","v":0.95},{"d":"2020-06-06","v":0.99},{"d":"2020-06-07","v":0.97},{"d":"2020-06-08","v":0.86},{"d":"2020-06-09","v":0.71},{"d":"2020-06-10","v":0.99},{"d":"2020-06-11","v":0.26},{"d":"2020-06-12","v":0.95},{"d":"2020-06-13","v":0.53},{"d":"2020-06-14","v":0.62},{"d":"2020-06-15","v":0.86},{"d":"2020-06-16","v":0.66},{"d":"2020-06-17","v":0.65},{"d":"2020-06-18","v":1.00},{"d":"2020-06-19","v":0.99},{"d":"2020-06-20","v":1.00},{"d":"2020-06-21","v":0.60}
      ]},
      "mark": {"type": "point", "filled": true, "opacity": 1, "size": 9, "shape": "circle"},
      "encoding": {
        "y": {
          "field": "v", "type": "quantitative",
          "scale": {"domain": [0, 1], "nice": false},
          "axis": {
            "title": null,
            "values": [0, 0.1, 0.2, 0.3, 0.4, 0.5, 0.6, 0.7, 0.8, 0.9, 1],
            "labelExpr": "replace(format(datum.value, '.2f'), '.', ',')",
            "labelFont": "DejaVu Sans",
            "labelFontSize": 14,
            "labelColor": "#595959",
            "labelPadding": 7,
            "ticks": false,
            "domain": false,
            "gridColor": "#d9d9d9",
            "gridWidth": 1.5
          }
        },
        "fill": {
          "datum": "PR policristalino",
          "scale": {"range": ["#000000"]},
          "legend": {
            "orient": "none",
            "legendX": 117,
            "legendY": -29,
            "symbolType": "circle",
            "symbolSize": 12,
            "symbolStrokeWidth": 0,
            "symbolOpacity": 1,
            "labelOffset": 13
          }
        }
      }
    },
    {
      "data": {"values": [
        {"d":"2018-01-31","v":0.597},{"d":"2018-02-28","v":0.639},{"d":"2018-03-31","v":0.723},{"d":"2018-04-30","v":0.711},
        {"d":"2018-05-31","v":0.956},{"d":"2018-06-30","v":0.979},{"d":"2018-07-31","v":0.982},{"d":"2018-08-31","v":0.780},
        {"d":"2018-09-30","v":0.806},{"d":"2018-10-31","v":0.761},{"d":"2018-11-30","v":0.787},{"d":"2018-12-31","v":0.634},
        {"d":"2019-01-31","v":0.599},{"d":"2019-02-28","v":0.541},{"d":"2019-03-31","v":0.666},{"d":"2019-05-31","v":0.697},
        {"d":"2019-06-30","v":0.877},{"d":"2019-07-31","v":0.868},{"d":"2019-08-31","v":0.758},{"d":"2019-09-30","v":0.603},
        {"d":"2019-10-31","v":0.645},{"d":"2019-11-30","v":0.571},{"d":"2019-12-31","v":0.557},{"d":"2020-01-31","v":0.504},
        {"d":"2020-02-29","v":0.499},{"d":"2020-03-31","v":0.504},{"d":"2020-04-30","v":0.658},{"d":"2020-05-31","v":0.703},
        {"d":"2020-06-22","v":0.771}
      ]},
      "mark": {"type": "point", "filled": true, "opacity": 1, "size": 165, "shape": "triangle-up"},
      "encoding": {
        "y": {"field": "v", "type": "quantitative"},
        "color": {
          "datum": "PR policristalino mensual",
          "scale": {"range": ["#00b050"]},
          "legend": {
            "orient": "none",
            "legendX": 279,
            "legendY": -29,
            "symbolType": "triangle-up",
            "symbolSize": 90,
            "symbolStrokeWidth": 0,
            "symbolOpacity": 1,
            "labelOffset": 19,
            "labelFontSize": 12.5
          }
        }
      }
    }
  ]
}
